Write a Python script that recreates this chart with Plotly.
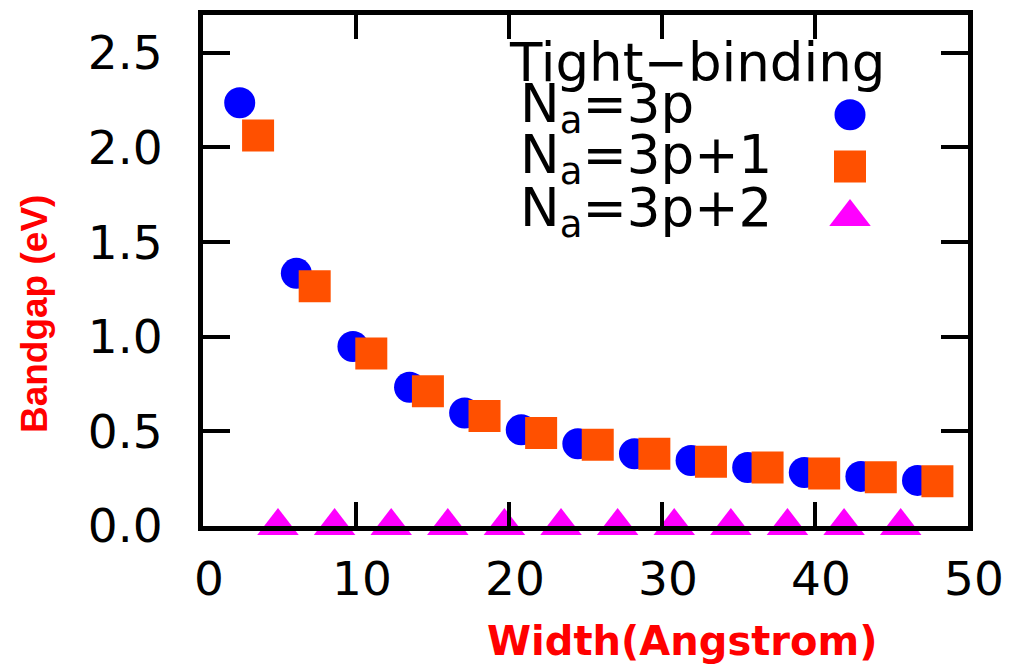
import plotly.graph_objects as go

# Data
width_3p = [2.4, 6.1, 9.8, 13.5, 17.1, 20.8, 24.5, 28.2, 31.9, 35.6, 39.3, 43.0, 46.7]
gap_3p = [2.236, 1.335, 0.948, 0.733, 0.597, 0.508, 0.435, 0.382, 0.346, 0.309, 0.283, 0.262, 0.241]

width_3p1 = [3.6, 7.3, 11.0, 14.7, 18.4, 22.1, 25.8, 29.5, 33.2, 36.9, 40.6, 44.3, 48.0]
gap_3p1 = [2.063, 1.267, 0.911, 0.712, 0.581, 0.492, 0.429, 0.382, 0.340, 0.309, 0.277, 0.257, 0.236]

width_3p2 = [4.9, 8.6, 12.3, 16.0, 19.7, 23.4, 27.1, 30.8, 34.5, 38.2, 41.9, 45.6]
gap_3p2 = [0.0] * 12

x_ticks = [0, 10, 20, 30, 40, 50]
y_ticks = [0.0, 0.5, 1.0, 1.5, 2.0, 2.5]

legend_title = "Tight\u2212binding"
series_names = ["N<sub>a</sub>=3p", "N<sub>a</sub>=3p+1", "N<sub>a</sub>=3p+2"]
colors = ["#0000ff", "#ff5000", "#ff00ff"]
symbols = ["circle", "square", "triangle-up"]
sizes = [31, 32, 36]

W, H = 1022, 671
L, R, T, B = 203, 968, 10, 526

def px(x):
    return (x - L) / (R - L)

def py(y):
    return (B - y) / (B - T)

fig = go.Figure()
for xs, ys, name, c, s, sz in zip([width_3p, width_3p1, width_3p2],
                                  [gap_3p, gap_3p1, gap_3p2],
                                  series_names, colors, symbols, sizes):
    fig.add_trace(go.Scatter(x=xs, y=ys, mode="markers", name=name,
                             marker=dict(color=c, symbol=s, size=sz, line=dict(width=0)),
                             cliponaxis=False, showlegend=False))

# Custom legend keys (markers on the right of the text, like the reference)
leg_y = [py(110.7), py(163), py(214)]
for i in range(3):
    fig.add_trace(go.Scatter(x=[px(850)], y=[leg_y[i]], mode="markers",
                             xaxis="x2", yaxis="y2",
                             marker=dict(color=colors[i], symbol=symbols[i], size=sizes[i], line=dict(width=0)),
                             cliponaxis=False, showlegend=False, hoverinfo="skip"))

tickfont = dict(family="DejaVu Sans", size=47, color="black")
fig.update_layout(
    width=W, height=H,
    margin=dict(l=L, r=W - R, t=T, b=H - B, pad=0),
    paper_bgcolor="white", plot_bgcolor="white",
    showlegend=False,
    xaxis=dict(range=[0, 50], tickvals=x_ticks, ticks="inside", ticklen=24, tickwidth=4,
               tickcolor="black", showline=True, linecolor="black", linewidth=5, mirror="ticks",
               showgrid=False, zeroline=False, tickfont=tickfont,
               ticklabelstandoff=8, ticklabelshift=6),
    yaxis=dict(range=[0, 2.7], tickvals=y_ticks, tickformat=".1f", ticks="inside", ticklen=27,
               tickwidth=4, tickcolor="black", showline=True, linecolor="black", linewidth=5,
               mirror="ticks", showgrid=False, zeroline=False, tickfont=tickfont,
               ticklabelstandoff=26),
    xaxis2=dict(overlaying="x", range=[0, 1], visible=False),
    yaxis2=dict(overlaying="y", range=[0, 1], visible=False),
)

legfont = dict(family="DejaVu Sans", size=53, color="black")
ann = [
    dict(text=legend_title, x=px(507), y=py(58)),
    dict(text=series_names[0], x=px(518), y=py(103)),
    dict(text=series_names[1], x=px(518), y=py(155)),
    dict(text=series_names[2], x=px(518), y=py(208)),
]
for a in ann:
    fig.add_annotation(text=a["text"], x=a["x"], y=a["y"], xref="paper", yref="paper",
                       xanchor="left", yanchor="middle", showarrow=False, font=legfont)

fig.add_annotation(text="<b>Width(Angstrom)</b>", x=px(682), y=py(642), xref="paper", yref="paper",
                   xanchor="center", yanchor="middle", showarrow=False,
                   font=dict(family="DejaVu Sans", size=40, color="#ff0000"))
fig.add_annotation(text="<b>Bandgap (eV)</b>", x=px(34), y=py(312), xref="paper", yref="paper",
                   xanchor="center", yanchor="middle", showarrow=False, textangle=-90,
                   font=dict(family="Liberation Sans", size=37, color="#ff0000"))

fig.write_html("out.html")
